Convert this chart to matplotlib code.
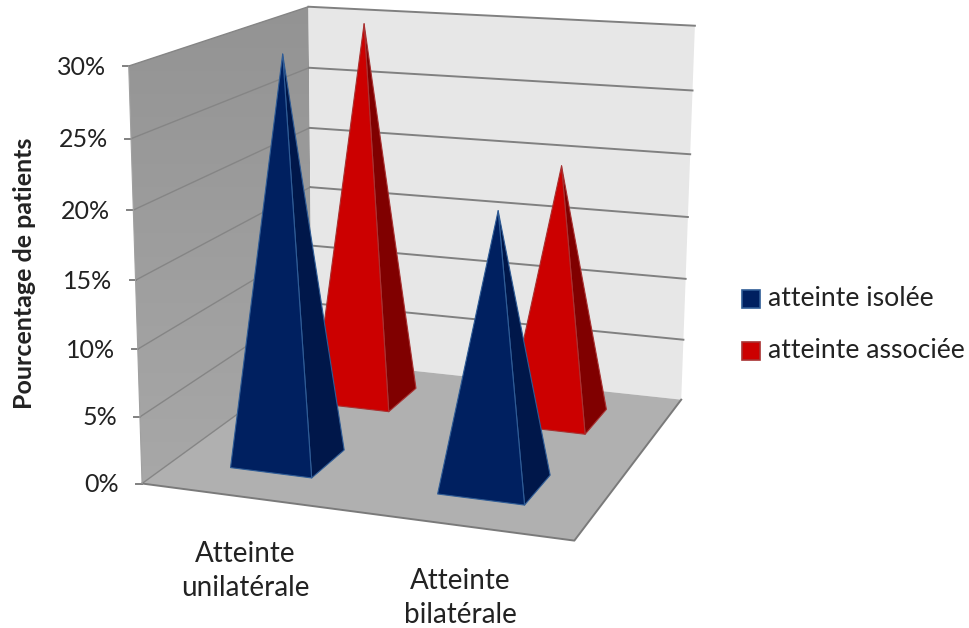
import numpy as np
import matplotlib
matplotlib.use("Agg")
import matplotlib.pyplot as plt
from matplotlib.patches import Polygon, Rectangle

# Chart values
categories = ["Atteinte\nunilatérale", "Atteinte\nbilatérale"]
series_names = ["atteinte isolée", "atteinte associée"]
isolee = [30, 20]
associee = [30, 20]
ticks = [0, 5, 10, 15, 20, 25, 30]
tick_labels = ["0%", "5%", "10%", "15%", "20%", "25%", "30%"]
ylabel = "Pourcentage de patients"

# Calibration of the fake 3D box: (x, depth, percent) -> picture pixel
box_pts = [(0, 0, 30), (0, 0, 25), (0, 0, 20), (0, 0, 10), (0, 0, 5), (0, 0, 0),
           (0, 1, 30), (0, 1, 25), (0, 1, 20), (0, 1, 15), (0, 1, 10), (0, 1, 0),
           (1, 1, 30), (1, 1, 25), (1, 1, 20), (1, 1, 15), (1, 1, 0), (1, 0, 0)]
pix_pts = [(127, 66), (130, 139), (133, 210), (139, 348), (141, 417), (143, 483),
           (310, 7), (310, 68), (310, 127), (310, 187), (310, 245), (310, 362),
           (695, 26), (692, 91), (690, 154), (688, 217), (682, 398), (574, 542)]

A = []
b = []
for (x, y, z), (u, v) in zip(box_pts, pix_pts):
    A.append([x, y, z, 1, 0, 0, 0, 0, -u * x, -u * y, -u * z])
    b.append(u)
    A.append([0, 0, 0, 0, x, y, z, 1, -v * x, -v * y, -v * z])
    b.append(v)
P = np.linalg.lstsq(np.array(A, float), np.array(b, float), rcond=None)[0]
P = np.append(P, 1).reshape(3, 4)


def proj(x, y, z):
    h = P @ np.array([x, y, z, 1.0])
    return h[0] / h[2], h[1] / h[2]


def face(pts):
    return [proj(*p) for p in pts]


def pyramid(ax, xc, yc, val, front, side, edge):
    hw = 0.1
    hd = 0.1
    top = (xc, yc, val)
    fl = (xc - hw, yc - hd, 0)
    fr = (xc + hw, yc - hd, 0)
    br = (xc + hw, yc + hd, 0)
    ax.add_patch(Polygon(face([fr, br, top]), fc=side, ec=edge, lw=0.8, joinstyle="round", zorder=4))
    ax.add_patch(Polygon(face([fl, fr, top]), fc=front, ec=edge, lw=0.8, joinstyle="round", zorder=4))


plt.rcParams["font.family"] = ["Lato", "DejaVu Sans"]
fig = plt.figure(figsize=(9.7, 6.28), dpi=100)
ax = fig.add_axes([0, 0, 1, 1])

zmax = ticks[-1]
grey = "#808080"
txt = "#222222"

# left wall with a slight gradient, back wall, floor
wall = Polygon(face([(0, 0, 0), (0, 1, 0), (0, 1, zmax), (0, 0, zmax)]), fc="none", ec="none")
ax.add_patch(wall)
grad = np.linspace(0, 1, 256).reshape(-1, 1)
cmap = matplotlib.colors.LinearSegmentedColormap.from_list("w", ["#939393", "#a8a8a8"])
im = ax.imshow(grad, extent=(120, 320, 490, 0), cmap=cmap, aspect="auto", origin="upper", zorder=1)
im.set_clip_path(wall)
ax.add_patch(Polygon(face([(0, 1, 0), (1, 1, 0), (1, 1, zmax), (0, 1, zmax)]), fc="#e7e7e7", ec="none", zorder=1))
ax.add_patch(Polygon(face([(0, 0, 0), (1, 0, 0), (1, 1, 0), (0, 1, 0)]), fc="#b0b0b0", ec="none", zorder=2))

# gridlines on both walls
for t, lab in zip(ticks, tick_labels):
    pts = face([(0, 0, t), (0, 1, t), (1, 1, t)])
    ax.plot([p[0] for p in pts[:2]], [p[1] for p in pts[:2]], color="#858585", lw=1.0, zorder=2)
    if t > 0:
        ax.plot([p[0] for p in pts[1:]], [p[1] for p in pts[1:]], color=grey, lw=1.4, zorder=2)
    # tick mark and label
    u, v = pts[0]
    ax.plot([u - 6, u], [v, v], color=grey, lw=1.4, zorder=3)
    ax.text(u - 23, v + 1, lab, ha="right", va="center", fontsize=18, color=txt)

pts = face([(0, 0, 0), (1, 0, 0), (1, 1, 0)])
ax.plot([p[0] for p in pts], [p[1] for p in pts], color="#7a7a7a", lw=1.4, zorder=3)
pts = face([(0, 0, 0), (0, 0, zmax)])
ax.plot([p[0] for p in pts], [p[1] for p in pts], color="#a0a0a0", lw=0.8, zorder=3)

# pyramids, back row first
xc = [0.243, 0.743]
blue = ("#002060", "#00174a", "#2f5c96")
red = ("#cc0000", "#800000", "#a83232")
for i in range(len(categories)):
    pyramid(ax, xc[i], 0.762, associee[i], *red)
for i in range(len(categories)):
    pyramid(ax, xc[i], 0.262, isolee[i], *blue)

# category labels
ax.text(245, 571, categories[0], ha="center", va="center", fontsize=20, color=txt, linespacing=1.42)
ax.text(460, 598, categories[1], ha="center", va="center", fontsize=20, color=txt, linespacing=1.42)

ax.text(25, 273, ylabel, rotation=90, ha="center", va="center", fontsize=18, fontweight="bold", color=txt)

# legend
ax.add_patch(Rectangle((742, 290), 18, 18, fc="#002060", ec="#2f5c96", lw=1.2))
ax.add_patch(Rectangle((742, 342), 18, 18, fc="#cc0000", ec="#a83232", lw=1.2))
ax.text(768, 299, series_names[0], ha="left", va="center", fontsize=19.2, color=txt)
ax.text(768, 351, series_names[1], ha="left", va="center", fontsize=19.2, color=txt)

ax.set_xlim(0, 970)
ax.set_ylim(628, 0)
ax.axis("off")

fig.savefig("out.png", dpi=100)
